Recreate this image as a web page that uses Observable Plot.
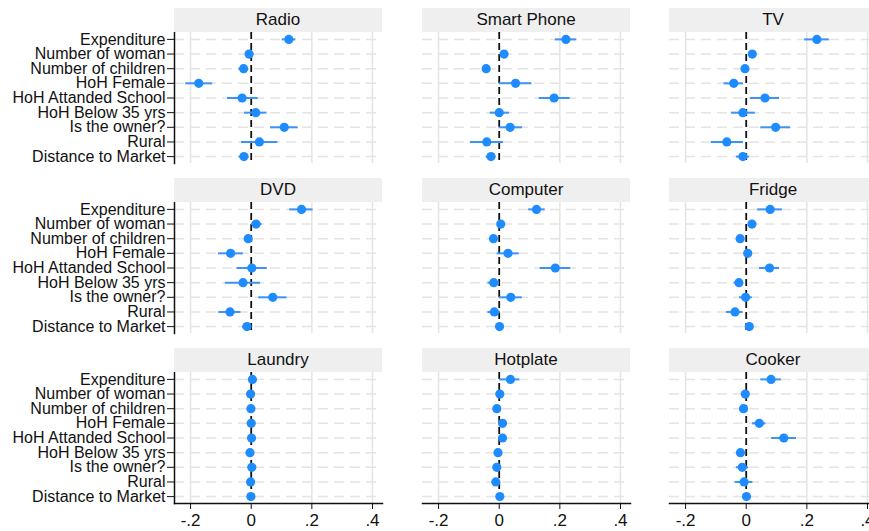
<!DOCTYPE html>
<html><head><meta charset="utf-8">
<script src="https://cdn.jsdelivr.net/npm/d3@7"></script>
<script src="https://cdn.jsdelivr.net/npm/@observablehq/plot@0.6"></script>
<style>
body{margin:0;background:#fff;}
#chart{position:relative;width:869px;height:531px;overflow:hidden;font-family:"Liberation Sans",Arial,sans-serif;background:#fff;}
.strip{position:absolute;background:#efefef;height:24px;line-height:24px;text-align:center;font-size:17px;color:#111;}
.panel{position:absolute;}
.panel svg{max-width:none !important;}
</style></head><body><div id="chart"></div>
<script>
// Covariates (rows of each panel)
const categories = ["Expenditure","Number of woman","Number of children","HoH Female","HoH Attanded School","HoH Below 35 yrs","Is the owner?","Rural","Distance to Market"];
// Panels (assets), reading order
const panels = ["Radio","Smart Phone","TV","DVD","Computer","Fridge","Laundry","Hotplate","Cooker"];
// Each row: [estimate, lower CI, upper CI], in category order
const radio = [[0.124,0.102,0.147],[-0.007,-0.019,0.009],[-0.025,-0.041,-0.008],[-0.173,-0.216,-0.127],[-0.030,-0.078,0.023],[0.015,-0.022,0.052],[0.109,0.064,0.155],[0.027,-0.032,0.088],[-0.024,-0.040,-0.007]];
const smartPhone = [[0.220,0.185,0.256],[0.016,0.009,0.024],[-0.043,-0.048,-0.037],[0.054,0.000,0.108],[0.181,0.132,0.234],[0.000,-0.030,0.034],[0.036,0.000,0.077],[-0.041,-0.095,0.014],[-0.027,-0.043,-0.011]];
const tv = [[0.233,0.193,0.274],[0.020,0.009,0.033],[-0.004,-0.015,0.007],[-0.041,-0.073,-0.009],[0.062,0.014,0.110],[-0.011,-0.049,0.030],[0.097,0.048,0.146],[-0.064,-0.115,-0.009],[-0.011,-0.032,0.011]];
const dvd = [[0.166,0.127,0.204],[0.016,0.001,0.036],[-0.010,-0.019,0.000],[-0.068,-0.108,-0.026],[0.002,-0.047,0.053],[-0.027,-0.085,0.031],[0.071,0.025,0.118],[-0.070,-0.107,-0.034],[-0.014,-0.029,0.001]];
const computer = [[0.123,0.097,0.152],[0.005,-0.002,0.013],[-0.019,-0.024,-0.013],[0.029,-0.007,0.066],[0.185,0.135,0.236],[-0.018,-0.037,0.001],[0.038,0.000,0.076],[-0.016,-0.037,0.004],[0.001,-0.005,0.008]];
const fridge = [[0.079,0.038,0.119],[0.019,0.010,0.027],[-0.020,-0.030,-0.010],[0.005,-0.005,0.018],[0.077,0.044,0.110],[-0.024,-0.040,-0.009],[-0.002,-0.022,0.020],[-0.037,-0.065,-0.010],[0.010,0.000,0.021]];
const laundry = [[0.004,0.000,0.009],[-0.002,-0.006,0.002],[-0.001,-0.005,0.003],[0.000,-0.004,0.004],[0.001,-0.003,0.005],[-0.004,-0.008,0.000],[0.002,-0.002,0.006],[-0.002,-0.006,0.002],[-0.001,-0.005,0.003]];
const hotplate = [[0.037,0.001,0.068],[0.002,-0.004,0.009],[-0.008,-0.014,-0.001],[0.011,-0.002,0.026],[0.011,0.002,0.020],[-0.004,-0.012,0.004],[-0.008,-0.016,0.001],[-0.011,-0.024,0.002],[0.002,-0.005,0.010]];
const cooker = [[0.082,0.048,0.116],[-0.003,-0.011,0.004],[-0.009,-0.019,0.001],[0.043,0.021,0.065],[0.124,0.084,0.166],[-0.019,-0.028,-0.010],[-0.013,-0.032,0.008],[-0.007,-0.036,0.022],[0.001,-0.011,0.011]];
const xTicks = [-0.2, 0, 0.2, 0.4];
const xTickLabels = ["-.2", "0", ".2", ".4"];

const series = [radio, smartPhone, tv, dvd, computer, fridge, laundry, hotplate, cooker];
const colLeft = [174, 422, 669];
const rowTop = [8, 178, 348];
const panelW = 208, stripH = 24, plotH = 131;
const chart = document.getElementById("chart");

panels.forEach((name, k) => {
  const col = k % 3, row = Math.floor(k / 3);
  const rows = series[k].map((v, i) => ({cat: categories[i], est: v[0], lo: v[1], hi: v[2]}));
  const ml = col === 0 ? colLeft[0] : 0;
  const mb = row === 2 ? 30 : 0;
  const marks = [
    Plot.ruleY(categories, {stroke: "#e4e4e4", strokeWidth: 1.5, strokeDasharray: "10,6"}),
    Plot.ruleX(xTicks.filter(d => d !== 0), {stroke: "#e4e4e4", strokeWidth: 1.5}),
    Plot.ruleX([0], {stroke: "#111", strokeWidth: 1.8, strokeDasharray: "7,4"}),
    Plot.ruleY(rows, {y: "cat", x1: "lo", x2: "hi", stroke: "#3a93f5", strokeWidth: 2}),
    Plot.dot(rows, {x: "est", y: "cat", r: 4.6, fill: "#1e8cff", stroke: "none"})
  ];
  if (col === 0) {
    marks.push(Plot.frame({anchor: "left", stroke: "#111", strokeWidth: 1.5}));
    marks.push(Plot.axisY({tickSize: 7, tickPadding: 2, fontSize: 16, label: null, stroke: "#111", fill: "#111"}));
  }
  if (row === 2) {
    marks.push(Plot.frame({anchor: "bottom", stroke: "#111", strokeWidth: 1.5}));
    marks.push(Plot.axisX(xTicks, {tickFormat: d => xTickLabels[xTicks.indexOf(d)], tickSize: 6, tickPadding: 4, fontSize: 17, label: null, stroke: "#111", fill: "#111"}));
  }
  const svg = Plot.plot({
    width: ml + panelW, height: plotH + mb,
    marginLeft: ml, marginRight: 0, marginTop: 0, marginBottom: mb,
    style: {overflow: "visible", background: "transparent", maxWidth: "none", fontFamily: "'Liberation Sans', Arial, sans-serif"},
    x: {domain: [-0.253, 0.433], axis: row === 2 ? undefined : null},
    y: {type: "point", domain: categories, padding: 0.47, round: false, axis: col === 0 ? undefined : null},
    marks
  });
  const wrap = document.createElement("div");
  wrap.className = "panel";
  wrap.style.left = (colLeft[col] - ml) + "px";
  wrap.style.top = (rowTop[row] + stripH) + "px";
  wrap.style.width = (ml + panelW) + "px";
  wrap.appendChild(svg);
  chart.appendChild(wrap);
  const strip = document.createElement("div");
  strip.className = "strip";
  strip.style.left = colLeft[col] + "px";
  strip.style.top = rowTop[row] + "px";
  strip.style.width = panelW + "px";
  strip.textContent = name;
  chart.appendChild(strip);
});
</script>
</body></html>
